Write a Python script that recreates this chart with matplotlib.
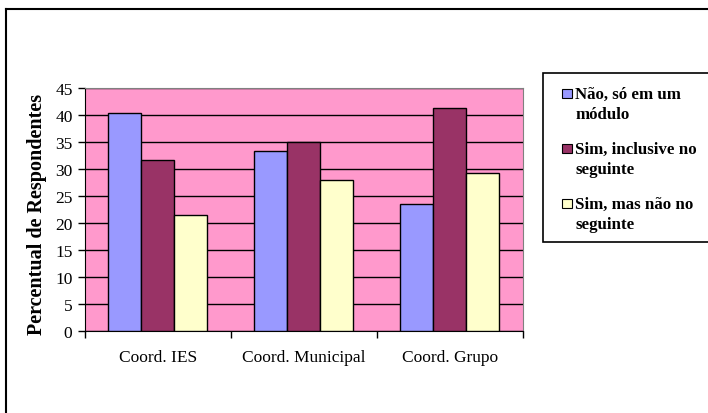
import numpy as np
import matplotlib
matplotlib.use("Agg")
import matplotlib.pyplot as plt
from matplotlib.patches import Rectangle
from matplotlib.lines import Line2D

plt.rcParams['font.family'] = ['Liberation Serif', 'DejaVu Serif']

categories = ["Coord. IES", "Coord. Municipal", "Coord. Grupo"]
series_names = ["Não, só em um\nmódulo", "Sim, inclusive no\nseguinte", "Sim, mas não no\nseguinte"]
nao_modulo = [40.3, 33.4, 23.5]
sim_seguinte = [31.6, 35.0, 41.3]
sim_nao_seguinte = [21.5, 28.0, 29.3]
yticks = [0, 5, 10, 15, 20, 25, 30, 35, 40, 45]

colors = ["#9999FF", "#993366", "#FFFFCC"]

W, H = 708, 414
fig = plt.figure(figsize=(W / 100, H / 100), dpi=100)
ax = fig.add_axes([85 / W, 1 - 332 / H, 437.7 / W, 243 / H])
ax.set_facecolor("#FF99CC")

x = np.arange(len(categories))
w = 0.226
for i, vals in enumerate([nao_modulo, sim_seguinte, sim_nao_seguinte]):
    ax.bar(x + (i - 1) * w, vals, w, color=colors[i], edgecolor="black",
           linewidth=1, zorder=3)

ax.set_xlim(-0.5, 2.5)
ax.set_ylim(0, 45)
ax.set_yticks(yticks)
ax.yaxis.grid(True, color="black", linewidth=1, zorder=1)
ax.set_axisbelow(True)

# category ticks sit on boundaries, labels in the middle
ax.set_xticks([-0.5, 0.5, 1.5, 2.5])
ax.set_xticklabels([])
ax.set_xticks(x, minor=True)
ax.set_xticklabels(categories, minor=True, fontsize=12.5)
ax.tick_params(axis="x", which="minor", length=0, pad=13)
ax.tick_params(axis="x", which="major", length=5, direction="out", width=1)
ax.tick_params(axis="y", length=5, direction="out", width=1, labelsize=12.5, pad=4)

ax.spines["top"].set_color("#808080")
ax.spines["right"].set_color("#808080")
ax.set_ylabel("Percentual de Respondentes", fontsize=14.5, fontweight="bold")
ax.yaxis.set_label_coords(-0.087, 0.4835)

# legend box runs off the right edge, swatch lines up with the first text line
fig.patches.append(Rectangle((542.7 / W, 1 - 243 / H), 0.3, 169 / H,
                             transform=fig.transFigure, facecolor="white",
                             edgecolor="black", linewidth=1.2, zorder=5))
first_baseline = 99.3
for i, (name, c) in enumerate(zip(series_names, colors)):
    b = first_baseline + i * 55
    fig.patches.append(Rectangle((562 / W, 1 - b / H), 9.5 / W, 9.5 / H,
                                 transform=fig.transFigure, facecolor=c,
                                 edgecolor="black", linewidth=0.8, zorder=6))
    for j, line in enumerate(name.split("\n")):
        fig.text(575 / W, 1 - (b + j * 20) / H, line, fontsize=12.2,
                 fontweight="bold", ha="left", va="baseline", zorder=7)

# outer chart border (only top and left visible)
fig.add_artist(Line2D([6 / W, 1], [1 - 10 / H, 1 - 10 / H],
                      transform=fig.transFigure, color="black", linewidth=1.5))
fig.add_artist(Line2D([6 / W, 6 / W], [0, 1 - 10 / H],
                      transform=fig.transFigure, color="black", linewidth=1.5))

fig.savefig("out.png", dpi=100)
